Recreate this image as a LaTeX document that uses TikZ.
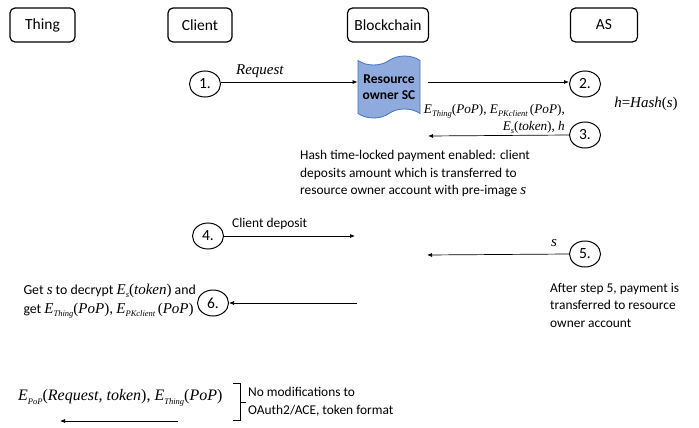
\documentclass[tikz,border=0pt]{standalone}
\usepackage{fontspec}
\setmainfont{Carlito}
\newfontfamily\tms{Liberation Serif}
\usetikzlibrary{shapes.geometric,shapes.symbols,arrows.meta}
\newcommand{\mi}[1]{{\tms\itshape #1}}
\newcommand{\Es}[1]{{\tms\itshape E\raisebox{-0.45ex}{\fontsize{8.5}{8.5}\selectfont #1}}}
\newcommand{\pop}{{\tms(\textit{PoP})}}
\definecolor{scfill}{HTML}{8FAADC}
\definecolor{scdraw}{HTML}{4472C4}
\begin{document}
\begin{tikzpicture}[x=1pt,y=-1pt,
  font=\fontsize{13.4}{17.5}\selectfont,
  actor/.style={draw, line width=1.2pt, rounded corners=5pt, minimum height=34pt, inner sep=0pt,
                font=\fontsize{15.5}{17}\selectfont},
  stepnum/.style={draw, ellipse, line width=1pt, minimum width=31pt, minimum height=26pt, inner sep=0pt,
                font=\fontsize{15.5}{17}\selectfont},
  msg/.style={-{Latex[length=5pt,width=4pt]}, line width=0.7pt},
  serif/.style={font=\fontsize{15}{15.5}\selectfont\tms}]
\useasboundingbox (0,0) rectangle (699,428);

% lifeline heads
\node[actor, minimum width=65pt] (thing) at (42.5,25) {Thing};
\node[actor, minimum width=64pt] (client) at (200,25) {Client};
\node[actor, minimum width=81pt] (bc) at (388,25) {Blockchain};
\node[actor, minimum width=67pt] (as) at (604,25) {AS};

% step markers
\node[stepnum] (s1) at (205,84) {1.};
\node[stepnum] (s2) at (585,84) {2.};
\node[stepnum] (s3) at (585,135) {3.};
\node[stepnum] (s4) at (208,236) {4.};
\node[stepnum] (s5) at (585,254) {5.};
\node[stepnum] (s6) at (213,303) {6.};

% smart contract
\node[tape, draw=scdraw, fill=scfill, line width=0.8pt, minimum width=62pt, minimum height=62pt,
      tape bend height=9pt, align=center, inner sep=1pt, font=\fontsize{13.5}{15.5}\selectfont\bfseries]
      (sc) at (389,87) {Resource\\owner SC};

% free ends
\coordinate (c3end) at (428,136);
\coordinate (c4end) at (355,236);
\coordinate (c5end) at (427,255);
\coordinate (c6start) at (357,303);
\coordinate (b1) at (178,421);
\coordinate (b2) at (60,421);

% messages
\draw[msg] (s1.east |- 0,82) -- (sc.west |- 0,82);
\draw[msg] ([xshift=8pt]sc.east |- 0,82) -- (s2.west |- 0,82);
\draw[msg] (s3.west) -- (c3end);
\draw[msg] (s4.east) -- (c4end);
\draw[msg] (s5.west) -- (c5end);
\draw[msg] (c6start) -- (s6.east);
\draw[msg] (b1) -- (b2);

% labels
\node[serif] (req) at (260,71) {\textit{Request}};
\node[anchor=east, align=right, inner sep=1pt, font=\fontsize{13.2}{16.5}\selectfont\tms] (m3) at (566,119)
  {\Es{Thing}\pop, \Es{PKclient}\,\pop,\\\Es{s}(\textit{token}), \textit{h}};
\node[serif] (hash) at (646,104) {\textit{h}=\textit{Hash}(\textit{s})};
\node[anchor=north west, align=left, inner sep=0pt] (htl) at (300,150)
  {Hash time-locked payment enabled: client\\deposits amount which is transferred to\\resource owner account with pre-image {\fontsize{15}{15}\selectfont\mi{s}}};
\node[anchor=west, inner sep=0pt] (cd) at (232,224) {Client deposit};
\node[serif] (slab) at (554,243) {\textit{s}};
\node[anchor=north west, align=left, inner sep=0pt] (after) at (550,283)
  {After step 5, payment is\\transferred to resource\\owner account};
\node[anchor=east, align=left, inner sep=0pt, font=\fontsize{13.8}{18.5}\selectfont] (get) at (196,301)
  {Get {\fontsize{15}{15}\selectfont\mi{s}} to decrypt {\fontsize{15}{15}\selectfont\Es{s}{\tms(\textit{token})}} and\\get {\fontsize{15}{15}\selectfont\Es{Thing}\pop, \Es{PKclient}\,\pop}};
\node[anchor=west, inner sep=0pt, font=\fontsize{16}{16}\selectfont\tms] (popmsg) at (18,398)
  {\Es{PoP}(\textit{Request, token}), \Es{Thing}\pop};
\draw[line width=0.6pt] (233,383) -- (240,383) -- (240,420) -- (233,420)
  (240,402) -- (246,402);
\node[anchor=north west, align=left, inner sep=0pt] (nomod) at (248,387)
  {No modifications to\\OAuth2/ACE, token format};
\end{tikzpicture}
\end{document}
